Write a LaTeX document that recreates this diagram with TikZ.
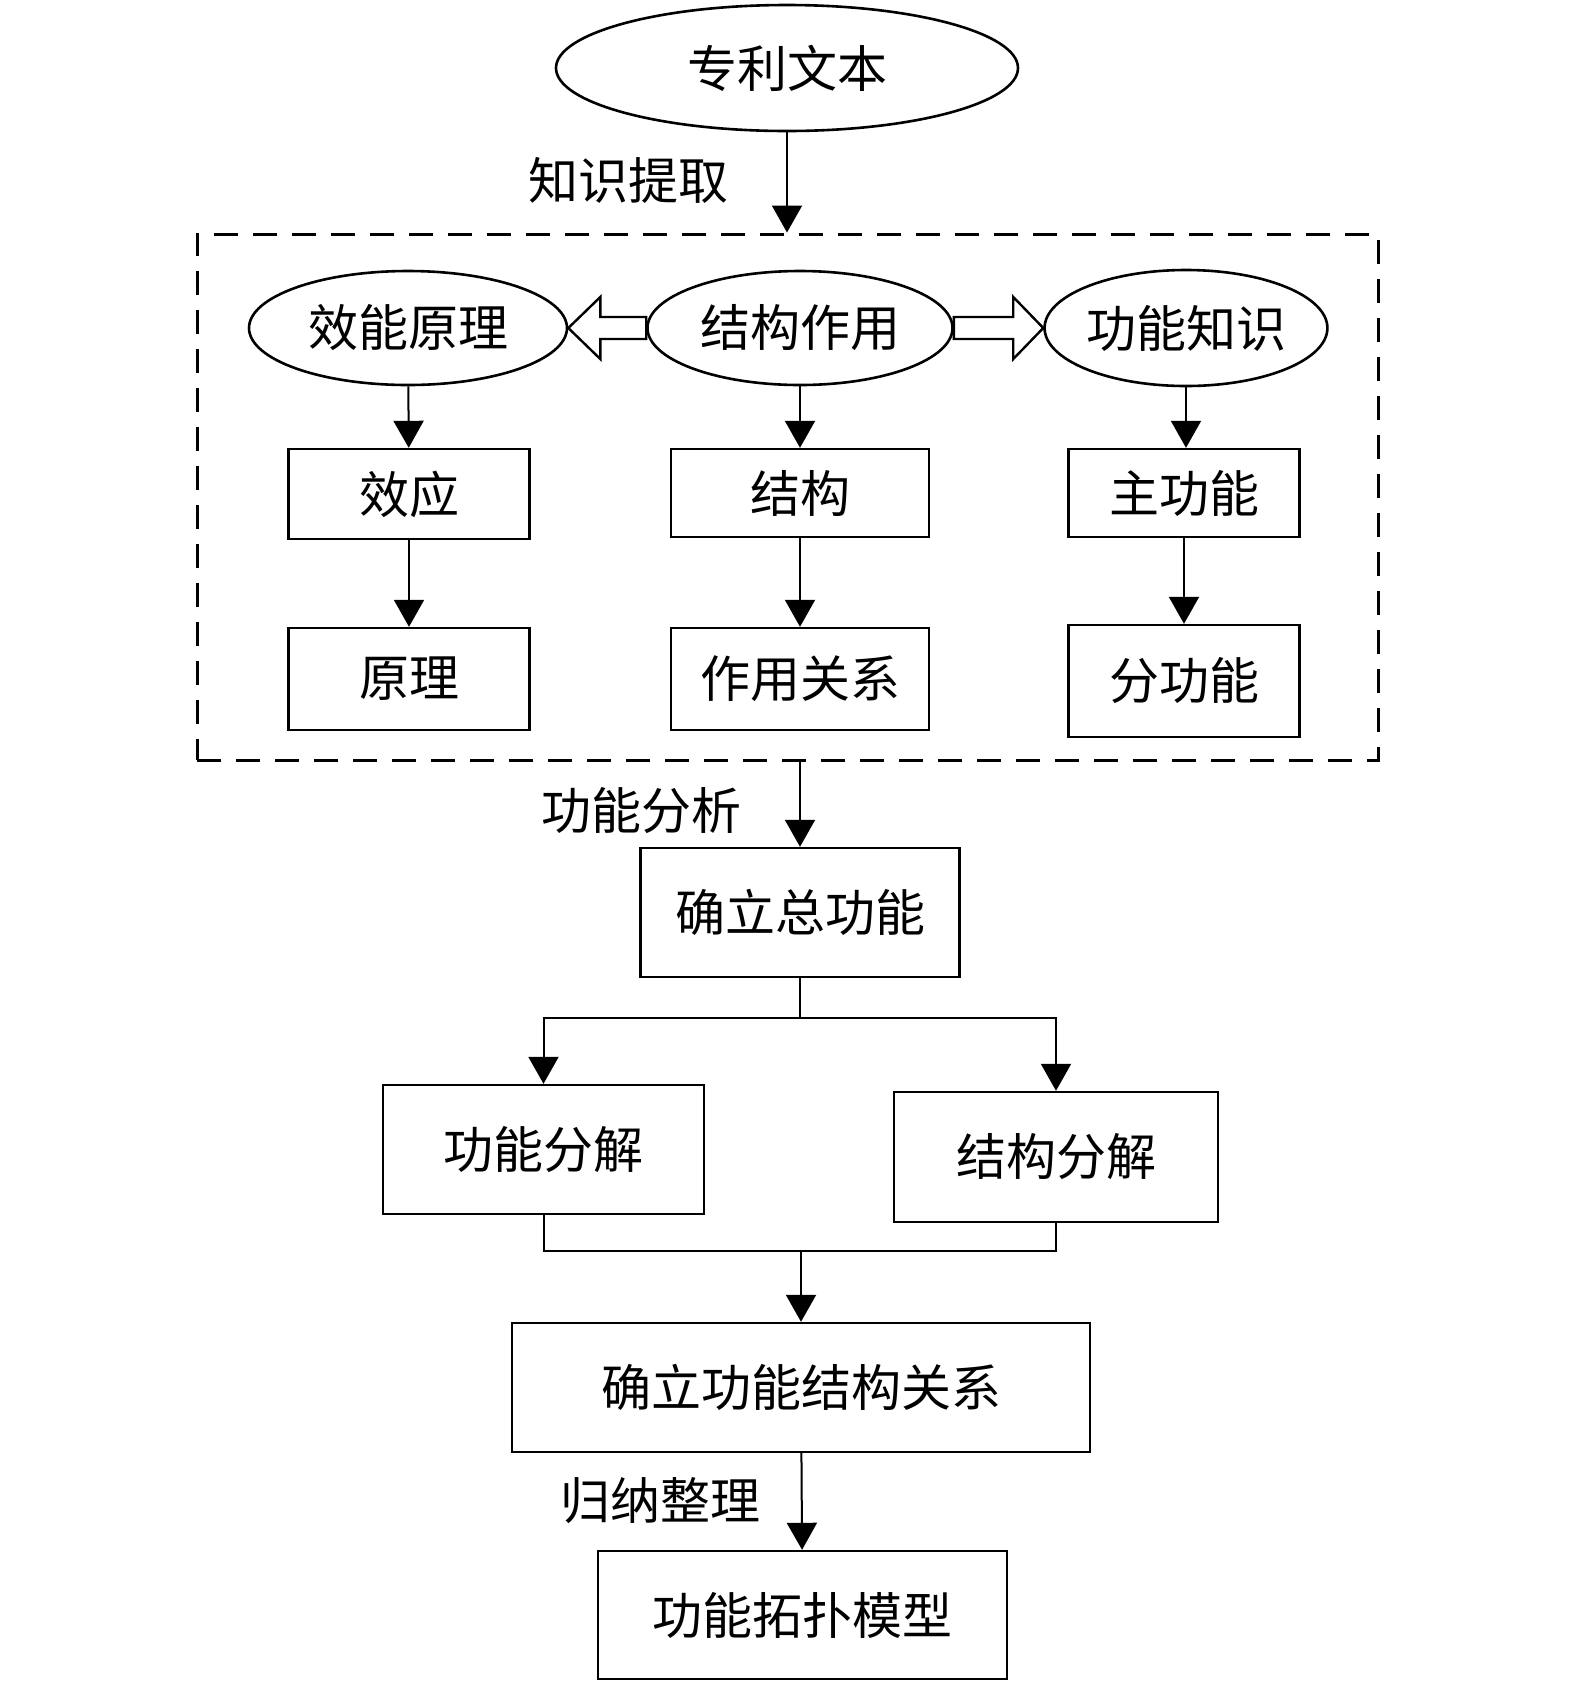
\documentclass[tikz,border=0pt]{standalone}
\usepackage{fontspec}
\setmainfont{Noto Sans CJK SC}
\usetikzlibrary{shapes.geometric,arrows.meta,calc}
\tikzset{
  ell/.style={draw,line width=1.3pt,ellipse,inner sep=0pt},
  box/.style={draw,line width=1.2pt,rectangle,inner sep=0pt},
  arr/.style={line width=1pt,-{Triangle[length=13.5pt,width=15pt]}},
  ln/.style={line width=1pt},
  lbl/.style={inner sep=0pt},
  hollow/.style={draw,line width=1.2pt,fill=white,line join=miter}
}
\begin{document}
\begin{tikzpicture}[x=0.5pt,y=-0.5pt,font=\fontsize{25}{30}\selectfont]
\useasboundingbox (0,0) rectangle (1575,1683);
\node[ell,minimum width=231pt,minimum height=63pt] (zl) at (787,68) {专利文本};
\node[lbl] (tq) at (628,180) {知识提取};
\node[draw,dashed,dash pattern=on 12pt off 7.5pt,line width=1.5pt,minimum width=590.5pt,minimum height=263pt] (kbox) at (787.5,497) {};
\node[ell,minimum width=159pt,minimum height=57pt] (xnyl) at (408,328) {效能原理};
\node[ell,minimum width=152.5pt,minimum height=57pt] (jgzy) at (800,328) {结构作用};
\node[ell,minimum width=141pt,minimum height=58pt] (gnzs) at (1186,328) {功能知识};
\node[box,minimum width=120.5pt,minimum height=45pt] (xy) at (409,494) {效应};
\node[box,minimum width=129pt,minimum height=44pt] (jg) at (800,493) {结构};
\node[box,minimum width=115.5pt,minimum height=44pt] (zgn) at (1184,493) {主功能};
\node[box,minimum width=120.5pt,minimum height=51pt] (yl) at (409,679) {原理};
\node[box,minimum width=129pt,minimum height=51pt] (zygx) at (800,679) {作用关系};
\node[box,minimum width=115.5pt,minimum height=56pt] (fgn) at (1184,681) {分功能};
\node[lbl] (fx) at (641,811) {功能分析};
\node[box,minimum width=159.5pt,minimum height=64.5pt] (zgn0) at (800,912.5) {确立总功能};
\node[box,minimum width=160.5pt,minimum height=64.5pt] (gnfj) at (543.5,1149.5) {功能分解};
\node[box,minimum width=162pt,minimum height=65pt] (jgfj) at (1056,1157) {结构分解};
\node[box,minimum width=289pt,minimum height=64.5pt] (gx) at (801,1387.5) {确立功能结构关系};
\node[lbl] (gn) at (660,1501) {归纳整理};
\node[box,minimum width=204.5pt,minimum height=64pt] (tp) at (802.5,1615) {功能拓扑模型};
% knowledge extraction
\draw[arr] (zl) -- (zl |- kbox.north);
% hollow arrows
\draw[hollow] (xnyl.east) -- ++(32,-31) -- ++(0,20) -- (jgzy.west |- 0,317) -- (jgzy.west |- 0,339) -- ($(xnyl.east)+(32,11)$) -- ++(0,20) -- cycle;
\draw[hollow] (gnzs.west) -- ++(-30,-31) -- ++(0,20) -- (jgzy.east |- 0,317) -- (jgzy.east |- 0,339) -- ($(gnzs.west)+(-30,11)$) -- ++(0,20) -- cycle;
\draw[arr] (xnyl) -- (xy);
\draw[arr] (xy) -- (yl);
\draw[arr] (jgzy) -- (jg);
\draw[arr] (jg) -- (zygx);
\draw[arr] (gnzs) -- (gnzs |- zgn.north);
\draw[arr] (zgn) -- (zgn |- fgn.north);
% function analysis
\draw[arr] (zgn0 |- kbox.south) -- (zgn0);
\coordinate (sp) at ($(zgn0.south)+(0,40)$);
\draw[ln] (zgn0) -- (sp);
\draw[arr] (sp) -| (gnfj);
\draw[arr] (sp) -| (jgfj);
\coordinate (mg) at (gx.north |- 0,1251);
\draw[ln] (gnfj) |- (mg) -| (jgfj);
\draw[arr] (mg) -- (gx);
\draw[arr] (gx) -- (tp);
\end{tikzpicture}
\end{document}
